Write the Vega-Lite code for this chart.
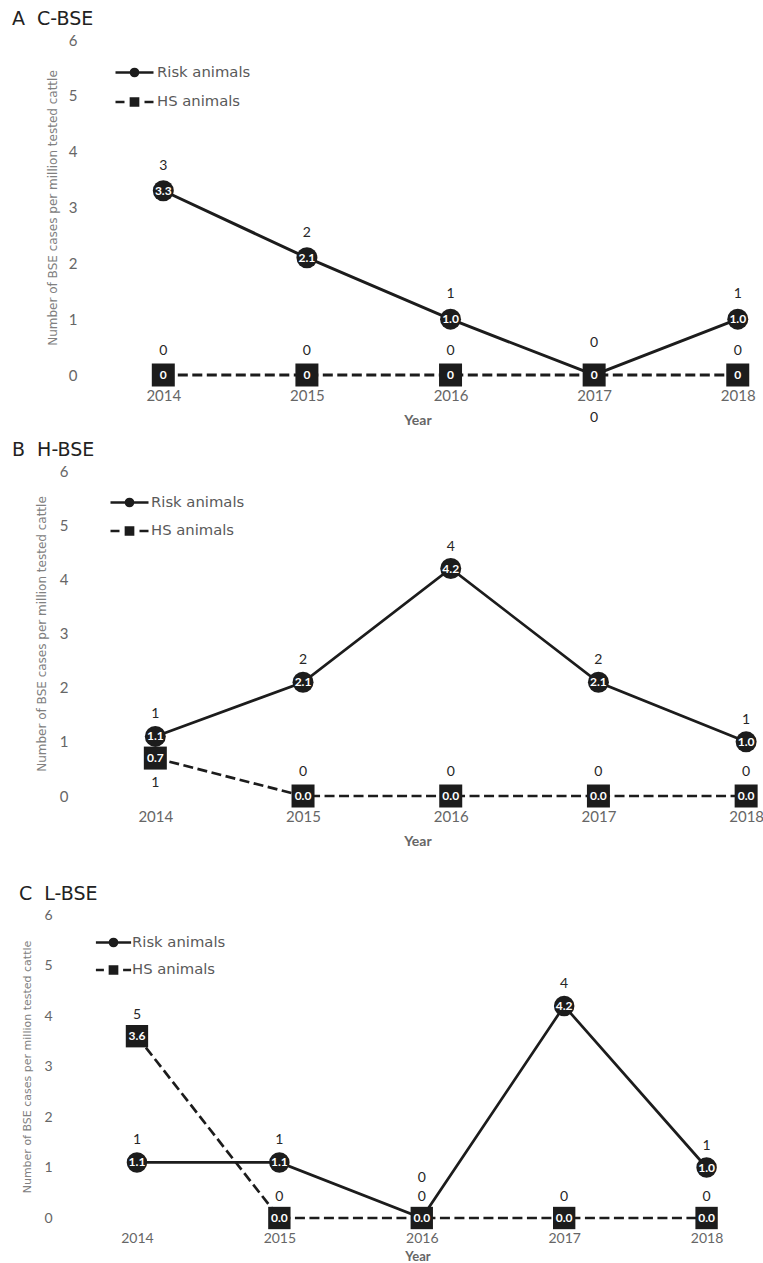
{
  "$schema": "https://vega.github.io/schema/vega-lite/v6.json",
  "background": "white",
  "padding": {"left": 12, "top": 10, "right": 0, "bottom": 0},
  "config": {
    "view": {"stroke": null},
    "font": "Lato",
    "axis": {"domain": false, "ticks": false, "grid": false, "labelFont": "Lato", "labelColor": "#666666", "labelOverlap": false, "labelFlush": false}
  },
  "datasets": {
    "bse": [
      {"panel": "A", "group": "Risk animals", "year": 2014, "rate": 3.3, "cases": 3},
      {"panel": "A", "group": "Risk animals", "year": 2015, "rate": 2.1, "cases": 2},
      {"panel": "A", "group": "Risk animals", "year": 2016, "rate": 1.0, "cases": 1},
      {"panel": "A", "group": "Risk animals", "year": 2017, "rate": 0, "cases": 0},
      {"panel": "A", "group": "Risk animals", "year": 2018, "rate": 1.0, "cases": 1},
      {"panel": "A", "group": "HS animals", "year": 2014, "rate": 0, "cases": 0},
      {"panel": "A", "group": "HS animals", "year": 2015, "rate": 0, "cases": 0},
      {"panel": "A", "group": "HS animals", "year": 2016, "rate": 0, "cases": 0},
      {"panel": "A", "group": "HS animals", "year": 2017, "rate": 0, "cases": 0},
      {"panel": "A", "group": "HS animals", "year": 2018, "rate": 0, "cases": 0},
      {"panel": "B", "group": "Risk animals", "year": 2014, "rate": 1.1, "cases": 1},
      {"panel": "B", "group": "Risk animals", "year": 2015, "rate": 2.1, "cases": 2},
      {"panel": "B", "group": "Risk animals", "year": 2016, "rate": 4.2, "cases": 4},
      {"panel": "B", "group": "Risk animals", "year": 2017, "rate": 2.1, "cases": 2},
      {"panel": "B", "group": "Risk animals", "year": 2018, "rate": 1.0, "cases": 1},
      {"panel": "B", "group": "HS animals", "year": 2014, "rate": 0.7, "cases": 1},
      {"panel": "B", "group": "HS animals", "year": 2015, "rate": 0, "cases": 0},
      {"panel": "B", "group": "HS animals", "year": 2016, "rate": 0, "cases": 0},
      {"panel": "B", "group": "HS animals", "year": 2017, "rate": 0, "cases": 0},
      {"panel": "B", "group": "HS animals", "year": 2018, "rate": 0, "cases": 0},
      {"panel": "C", "group": "Risk animals", "year": 2014, "rate": 1.1, "cases": 1},
      {"panel": "C", "group": "Risk animals", "year": 2015, "rate": 1.1, "cases": 1},
      {"panel": "C", "group": "Risk animals", "year": 2016, "rate": 0, "cases": 0},
      {"panel": "C", "group": "Risk animals", "year": 2017, "rate": 4.2, "cases": 4},
      {"panel": "C", "group": "Risk animals", "year": 2018, "rate": 1.0, "cases": 1},
      {"panel": "C", "group": "HS animals", "year": 2014, "rate": 3.6, "cases": 5},
      {"panel": "C", "group": "HS animals", "year": 2015, "rate": 0, "cases": 0},
      {"panel": "C", "group": "HS animals", "year": 2016, "rate": 0, "cases": 0},
      {"panel": "C", "group": "HS animals", "year": 2017, "rate": 0, "cases": 0},
      {"panel": "C", "group": "HS animals", "year": 2018, "rate": 0, "cases": 0}
    ]
  },
  "spacing": 14,
  "resolve": {
    "scale": {"x": "independent", "y": "independent", "shape": "independent"},
    "legend": {"shape": "independent"}
  },
  "vconcat": [
    {
      "title": {"text": "A\u00a0\u00a0C-BSE", "anchor": "start", "frame": "group", "dx": -68, "offset": -11, "fontSize": 19, "font": "DejaVu Sans", "fontWeight": "normal", "color": "#222222", "baseline": "alphabetic"},
      "width": 675,
      "height": 335,
      "data": {"name": "bse"},
      "transform": [
        {"filter": "datum.panel == 'A'"},
        {"calculate": "datum.rate == 0 ? '0' : format(datum.rate, '.1f')", "as": "rate_text"}
      ],
      "encoding": {
        "x": {"field": "year", "type": "quantitative", "scale": {"domain": [2013.42, 2018.12], "nice": false, "zero": false},
          "axis": {"values": [2014, 2015, 2016, 2017, 2018], "format": "d", "labelFontSize": 15, "labelPadding": 13, "title": "Year", "titleFont": "Lato", "titleFontSize": 14, "titleFontWeight": "bold", "titleColor": "#666666", "titlePadding": 10}},
        "y": {"field": "rate", "type": "quantitative", "scale": {"domain": [0, 6], "nice": false},
          "axis": {"values": [0, 1, 2, 3, 4, 5, 6], "labelFontSize": 15, "labelPadding": 3, "title": "Number of BSE cases per million tested cattle", "titleFont": "DejaVu Sans", "titleFontSize": 12, "titleFontWeight": "normal", "titleColor": "#808080", "titlePadding": 9}}
      },
      "layer": [
        {"transform": [{"filter": "datum.group == 'Risk animals'"}],
          "mark": {"type": "line", "color": "#1c1c1c", "strokeWidth": 3}},
        {"transform": [{"filter": "datum.group == 'HS animals'"}],
          "mark": {"type": "line", "color": "#1c1c1c", "strokeWidth": 3.2, "strokeDash": [10, 4.5]}},
        {"transform": [{"filter": "datum.group == 'Risk animals'"}],
          "mark": {"type": "point", "shape": "circle", "filled": true, "size": 440, "color": "#1c1c1c", "opacity": 1}},
        {"transform": [{"filter": "datum.group == 'Risk animals'"}],
          "mark": {"type": "text", "color": "white", "font": "Lato", "fontWeight": "bold", "fontSize": 12, "baseline": "middle"},
          "encoding": {"text": {"field": "rate_text"}}},
        {"transform": [{"filter": "datum.group == 'HS animals'"}],
          "mark": {"type": "point", "shape": "square", "filled": true, "size": 529, "color": "#1c1c1c", "opacity": 1}},
        {"transform": [{"filter": "datum.group == 'HS animals'"}],
          "mark": {"type": "text", "color": "white", "font": "Lato", "fontWeight": "bold", "fontSize": 12, "baseline": "middle"},
          "encoding": {"text": {"field": "rate_text"}}},
        {"transform": [{"filter": "datum.group == 'Risk animals' && datum.year != 2017"}],
          "mark": {"type": "text", "dy": -25, "color": "#262626", "font": "Lato", "fontSize": 14, "baseline": "middle"},
          "encoding": {"text": {"field": "cases"}}},
        {"transform": [{"filter": "datum.group == 'Risk animals' && datum.year == 2017"}],
          "mark": {"type": "text", "dy": -32, "color": "#262626", "font": "Lato", "fontSize": 14, "baseline": "middle"},
          "encoding": {"text": {"field": "cases"}}},
        {"transform": [{"filter": "datum.group == 'HS animals' && datum.year != 2017"}],
          "mark": {"type": "text", "dy": -24, "color": "#262626", "font": "Lato", "fontSize": 14, "baseline": "middle"},
          "encoding": {"text": {"field": "cases"}}},
        {"transform": [{"filter": "datum.group == 'HS animals' && datum.year == 2017"}],
          "mark": {"type": "text", "dy": 43, "color": "#262626", "font": "Lato", "fontSize": 14, "baseline": "middle"},
          "encoding": {"text": {"field": "cases"}}},
        {"mark": {"type": "point", "filled": false, "opacity": 0, "color": "#1c1c1c", "strokeWidth": 2.5},
          "encoding": {"shape": {"field": "group", "type": "nominal",
            "scale": {"domain": ["Risk animals", "HS animals"], "range": ["M-2.375,0H2.375M-0.45,0A0.45,0.45,0,1,0,0.45,0A0.45,0.45,0,1,0,-0.45,0ZM-0.2,0A0.2,0.2,0,1,0,0.2,0A0.2,0.2,0,1,0,-0.2,0ZM-0.05,0H0.05", "M-2.375,0H-1.25M-0.45,-0.45H0.45V0.45H-0.45ZM-0.2,-0.2H0.2V0.2H-0.2ZM-0.05,0H0.05M1.25,0H2.375"]},
            "legend": {"title": null, "orient": "none", "legendX": 45, "legendY": 23, "padding": 0, "symbolSize": 256, "labelOffset": 13, "rowPadding": 10.5, "labelFont": "DejaVu Sans", "labelFontSize": 14.8, "labelColor": "#595959",
              "symbolStrokeColor": "#1c1c1c", "symbolStrokeWidth": 2.5, "symbolOpacity": 1,
              "encode": {"symbols": {"opacity": {"value": 1}, "stroke": {"value": "#1c1c1c"}, "strokeWidth": {"value": 2.5}}}}}}}
      ]
    },
    {
      "title": {"text": "B\u00a0\u00a0H-BSE", "anchor": "start", "frame": "group", "dx": -68, "offset": -11, "fontSize": 19, "font": "DejaVu Sans", "fontWeight": "normal", "color": "#222222", "baseline": "alphabetic"},
      "width": 675,
      "height": 325,
      "data": {"name": "bse"},
      "transform": [
        {"filter": "datum.panel == 'B'"},
        {"calculate": "format(datum.rate, '.1f')", "as": "rate_text"}
      ],
      "encoding": {
        "x": {"field": "year", "type": "quantitative", "scale": {"domain": [2013.49, 2018.06], "nice": false, "zero": false},
          "axis": {"values": [2014, 2015, 2016, 2017, 2018], "format": "d", "labelFontSize": 15, "labelPadding": 13, "title": "Year", "titleFont": "Lato", "titleFontSize": 14, "titleFontWeight": "bold", "titleColor": "#666666", "titlePadding": 10}},
        "y": {"field": "rate", "type": "quantitative", "scale": {"domain": [0, 6], "nice": false},
          "axis": {"values": [0, 1, 2, 3, 4, 5, 6], "labelFontSize": 15, "labelPadding": 12, "title": "Number of BSE cases per million tested cattle", "titleFont": "DejaVu Sans", "titleFontSize": 12, "titleFontWeight": "normal", "titleColor": "#808080", "titlePadding": 11}}
      },
      "layer": [
        {"transform": [{"filter": "datum.group == 'Risk animals'"}],
          "mark": {"type": "line", "color": "#1c1c1c", "strokeWidth": 2.7}},
        {"transform": [{"filter": "datum.group == 'HS animals'"}],
          "mark": {"type": "line", "color": "#1c1c1c", "strokeWidth": 2.7, "strokeDash": [10, 4.5]}},
        {"transform": [{"filter": "datum.group == 'Risk animals'"}],
          "mark": {"type": "point", "shape": "circle", "filled": true, "size": 440, "color": "#1c1c1c", "opacity": 1}},
        {"transform": [{"filter": "datum.group == 'Risk animals'"}],
          "mark": {"type": "text", "color": "white", "font": "Lato", "fontWeight": "bold", "fontSize": 12, "baseline": "middle"},
          "encoding": {"text": {"field": "rate_text"}}},
        {"transform": [{"filter": "datum.group == 'HS animals'"}],
          "mark": {"type": "point", "shape": "square", "filled": true, "size": 529, "color": "#1c1c1c", "opacity": 1}},
        {"transform": [{"filter": "datum.group == 'HS animals'"}],
          "mark": {"type": "text", "color": "white", "font": "Lato", "fontWeight": "bold", "fontSize": 12, "baseline": "middle"},
          "encoding": {"text": {"field": "rate_text"}}},
        {"transform": [{"filter": "datum.group == 'Risk animals'"}],
          "mark": {"type": "text", "dy": -22, "color": "#262626", "font": "Lato", "fontSize": 14, "baseline": "middle"},
          "encoding": {"text": {"field": "cases"}}},
        {"transform": [{"filter": "datum.group == 'HS animals' && datum.year != 2014"}],
          "mark": {"type": "text", "dy": -24, "color": "#262626", "font": "Lato", "fontSize": 14, "baseline": "middle"},
          "encoding": {"text": {"field": "cases"}}},
        {"transform": [{"filter": "datum.group == 'HS animals' && datum.year == 2014"}],
          "mark": {"type": "text", "dy": 25, "color": "#262626", "font": "Lato", "fontSize": 14, "baseline": "middle"},
          "encoding": {"text": {"field": "cases"}}},
        {"mark": {"type": "point", "filled": false, "opacity": 0, "color": "#1c1c1c", "strokeWidth": 2.5},
          "encoding": {"shape": {"field": "group", "type": "nominal",
            "scale": {"domain": ["Risk animals", "HS animals"], "range": ["M-2.375,0H2.375M-0.45,0A0.45,0.45,0,1,0,0.45,0A0.45,0.45,0,1,0,-0.45,0ZM-0.2,0A0.2,0.2,0,1,0,0.2,0A0.2,0.2,0,1,0,-0.2,0ZM-0.05,0H0.05", "M-2.375,0H-1.25M-0.45,-0.45H0.45V0.45H-0.45ZM-0.2,-0.2H0.2V0.2H-0.2ZM-0.05,0H0.05M1.25,0H2.375"]},
            "legend": {"title": null, "orient": "none", "legendX": 40, "legendY": 22, "padding": 0, "symbolSize": 256, "labelOffset": 12, "rowPadding": 9.5, "labelFont": "DejaVu Sans", "labelFontSize": 14.8, "labelColor": "#595959",
              "symbolStrokeColor": "#1c1c1c", "symbolStrokeWidth": 2.5, "symbolOpacity": 1,
              "encode": {"symbols": {"opacity": {"value": 1}, "stroke": {"value": "#1c1c1c"}, "strokeWidth": {"value": 2.5}}}}}}}
      ]
    },
    {
      "title": {"text": ["", "C\u00a0\u00a0L-BSE"], "lineHeight": 23, "anchor": "start", "frame": "group", "dx": -61, "offset": -11, "fontSize": 19, "font": "DejaVu Sans", "fontWeight": "normal", "color": "#222222", "baseline": "alphabetic"},
      "width": 675,
      "height": 303,
      "data": {"name": "bse"},
      "transform": [
        {"filter": "datum.panel == 'C'"},
        {"calculate": "format(datum.rate, '.1f')", "as": "rate_text"}
      ],
      "encoding": {
        "x": {"field": "year", "type": "quantitative", "scale": {"domain": [2013.6, 2018.34], "nice": false, "zero": false},
          "axis": {"values": [2014, 2015, 2016, 2017, 2018], "format": "d", "labelFontSize": 14, "labelPadding": 13, "title": "Year", "titleFont": "Lato", "titleFontSize": 13, "titleFontWeight": "bold", "titleColor": "#666666", "titlePadding": 5}},
        "y": {"field": "rate", "type": "quantitative", "scale": {"domain": [0, 6], "nice": false},
          "axis": {"values": [0, 1, 2, 3, 4, 5, 6], "labelFontSize": 14, "labelPadding": 28, "title": "Number of BSE cases per million tested cattle", "titleFont": "DejaVu Sans", "titleFontSize": 11, "titleFontWeight": "normal", "titleColor": "#808080", "titlePadding": 11}}
      },
      "layer": [
        {"transform": [{"filter": "datum.group == 'Risk animals'"}],
          "mark": {"type": "line", "color": "#1c1c1c", "strokeWidth": 2.7}},
        {"transform": [{"filter": "datum.group == 'HS animals'"}],
          "mark": {"type": "line", "color": "#1c1c1c", "strokeWidth": 2.7, "strokeDash": [10, 4.5]}},
        {"transform": [{"filter": "datum.group == 'Risk animals'"}],
          "mark": {"type": "point", "shape": "circle", "filled": true, "size": 420, "color": "#1c1c1c", "opacity": 1}},
        {"transform": [{"filter": "datum.group == 'Risk animals'"}],
          "mark": {"type": "text", "color": "white", "font": "Lato", "fontWeight": "bold", "fontSize": 12, "baseline": "middle"},
          "encoding": {"text": {"field": "rate_text"}}},
        {"transform": [{"filter": "datum.group == 'HS animals'"}],
          "mark": {"type": "point", "shape": "square", "filled": true, "size": 500, "color": "#1c1c1c", "opacity": 1}},
        {"transform": [{"filter": "datum.group == 'HS animals'"}],
          "mark": {"type": "text", "color": "white", "font": "Lato", "fontWeight": "bold", "fontSize": 12, "baseline": "middle"},
          "encoding": {"text": {"field": "rate_text"}}},
        {"transform": [{"filter": "datum.group == 'Risk animals' && datum.year != 2016"}],
          "mark": {"type": "text", "dy": -22, "color": "#262626", "font": "Lato", "fontSize": 14, "baseline": "middle"},
          "encoding": {"text": {"field": "cases"}}},
        {"transform": [{"filter": "datum.group == 'Risk animals' && datum.year == 2016"}],
          "mark": {"type": "text", "dy": -40, "color": "#262626", "font": "Lato", "fontSize": 14, "baseline": "middle"},
          "encoding": {"text": {"field": "cases"}}},
        {"transform": [{"filter": "datum.group == 'HS animals'"}],
          "mark": {"type": "text", "dy": -21, "color": "#262626", "font": "Lato", "fontSize": 14, "baseline": "middle"},
          "encoding": {"text": {"field": "cases"}}},
        {"mark": {"type": "point", "filled": false, "opacity": 0, "color": "#1c1c1c", "strokeWidth": 2.5},
          "encoding": {"shape": {"field": "group", "type": "nominal",
            "scale": {"domain": ["Risk animals", "HS animals"], "range": ["M-2.2,0H2.2M-0.45,0A0.45,0.45,0,1,0,0.45,0A0.45,0.45,0,1,0,-0.45,0ZM-0.2,0A0.2,0.2,0,1,0,0.2,0A0.2,0.2,0,1,0,-0.2,0ZM-0.05,0H0.05", "M-2.2,0H-1.2M-0.45,-0.45H0.45V0.45H-0.45ZM-0.2,-0.2H0.2V0.2H-0.2ZM-0.05,0H0.05M1.2,0H2.2"]},
            "legend": {"title": null, "orient": "none", "legendX": 24, "legendY": 18, "padding": 0, "symbolSize": 256, "labelOffset": 9, "rowPadding": 8.5, "labelFont": "DejaVu Sans", "labelFontSize": 14.8, "labelColor": "#595959",
              "symbolStrokeColor": "#1c1c1c", "symbolStrokeWidth": 2.5, "symbolOpacity": 1,
              "encode": {"symbols": {"opacity": {"value": 1}, "stroke": {"value": "#1c1c1c"}, "strokeWidth": {"value": 2.5}}}}}}}
      ]
    }
  ]
}
